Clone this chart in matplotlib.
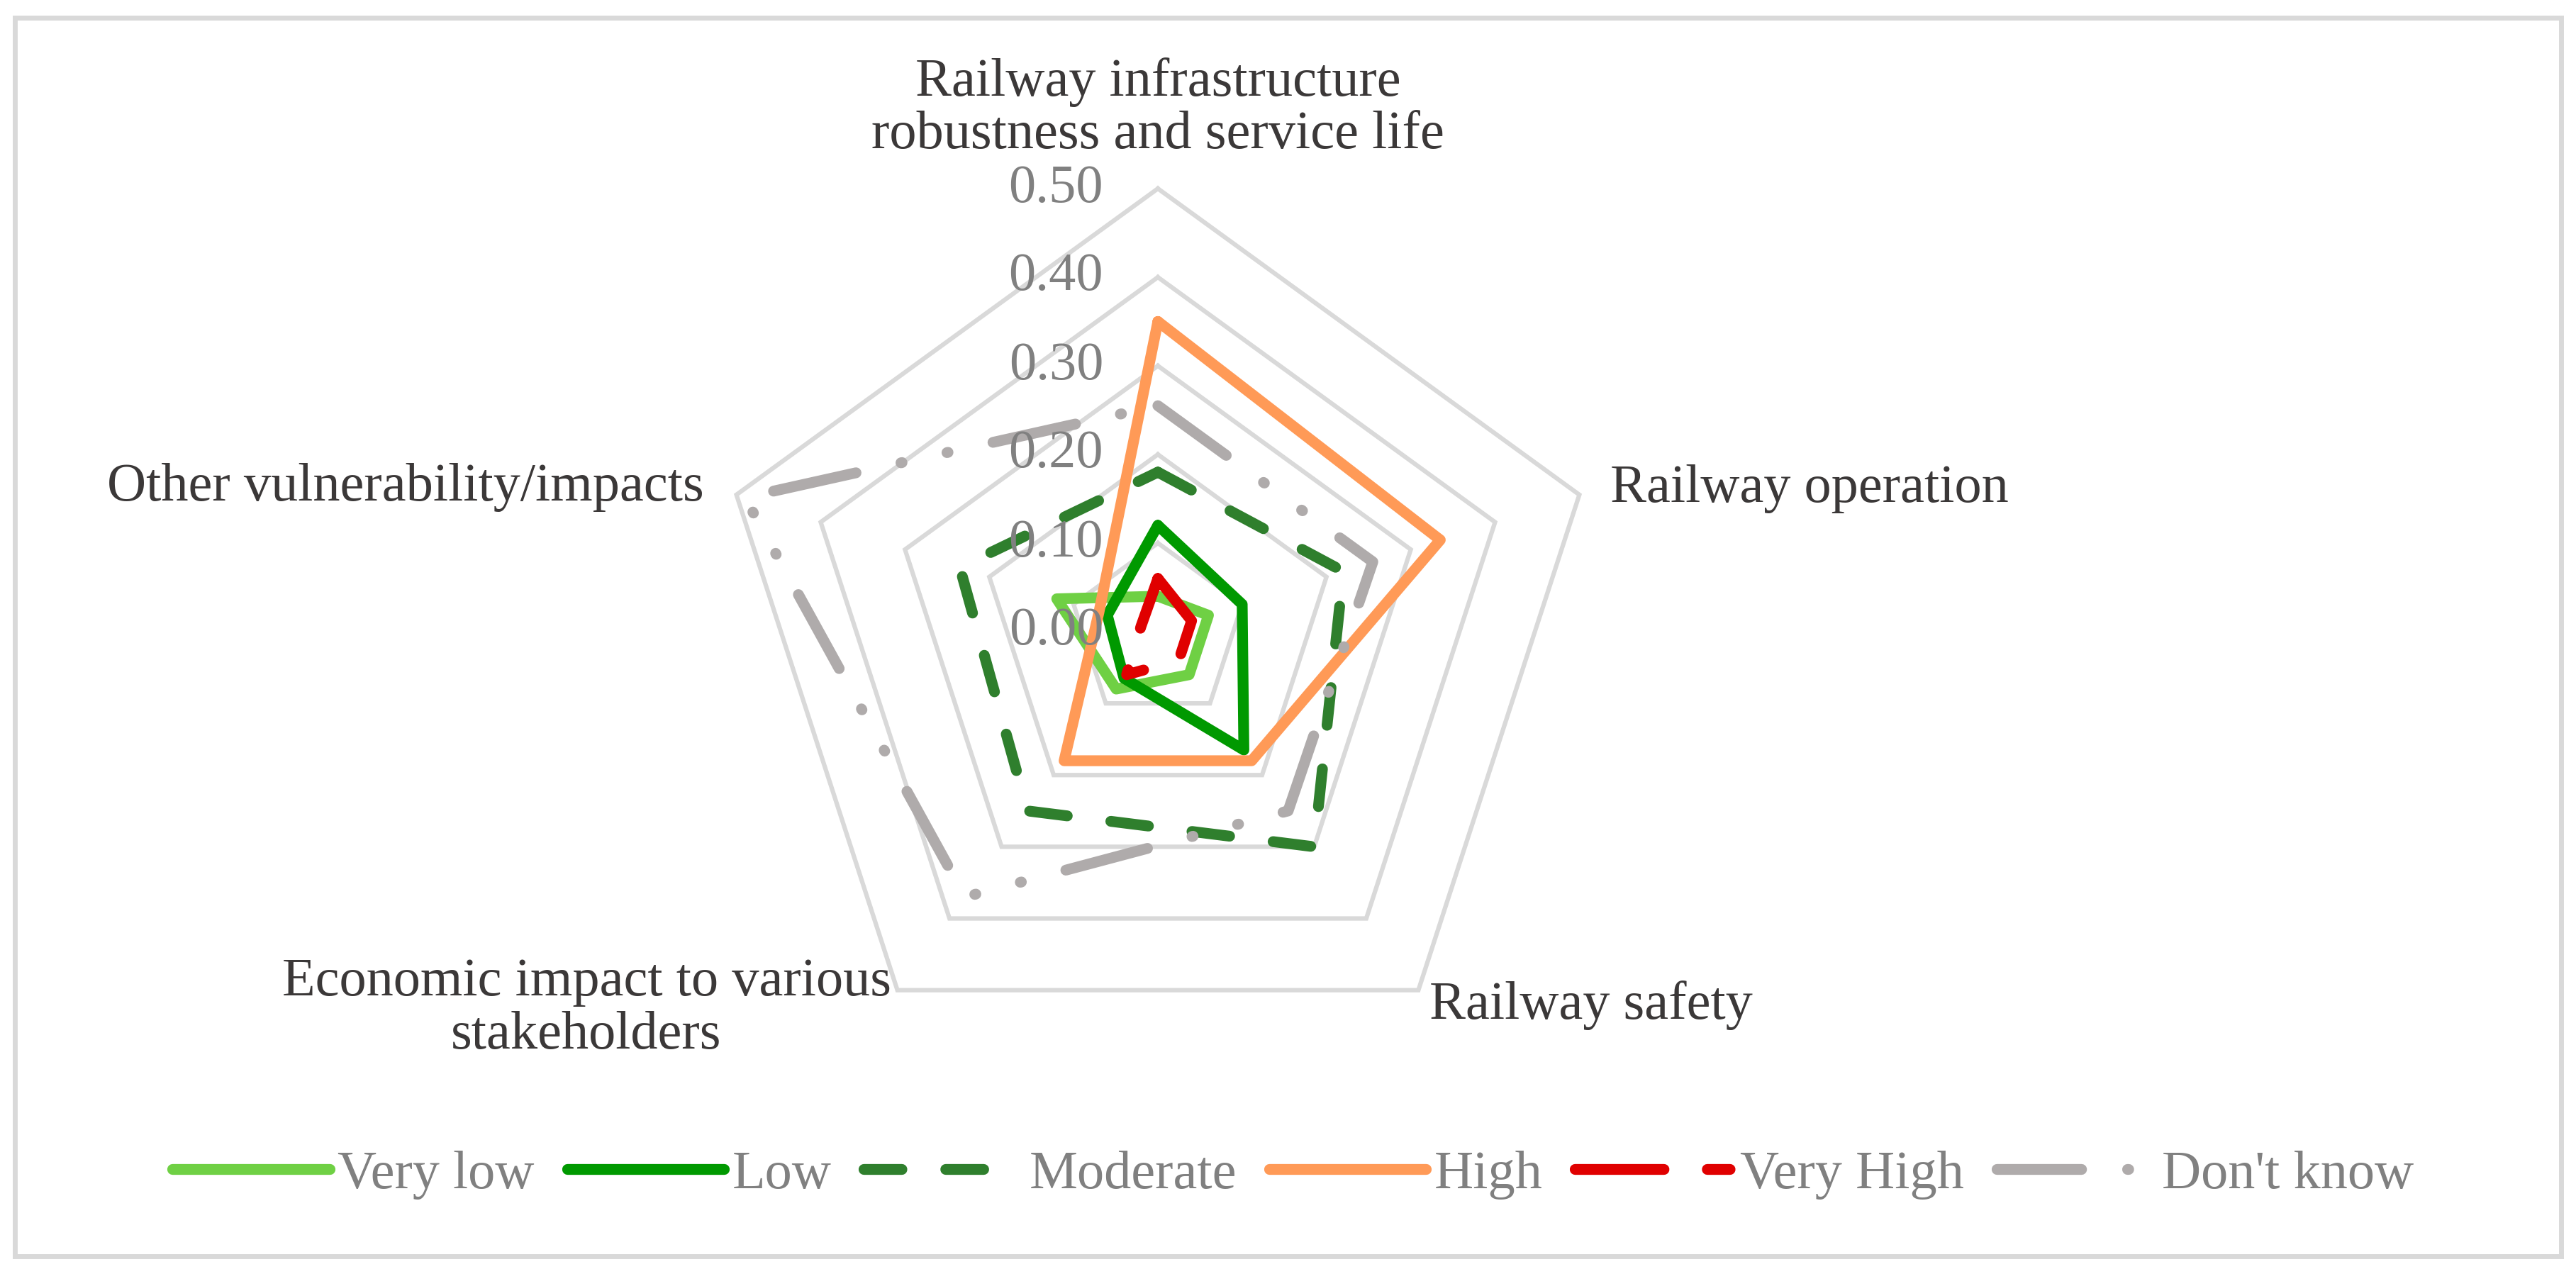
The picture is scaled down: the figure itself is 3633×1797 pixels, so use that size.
import numpy as np
import matplotlib
matplotlib.use("Agg")
import matplotlib.pyplot as plt
from matplotlib.patches import Rectangle

plt.rcParams["font.family"] = ["Liberation Serif", "DejaVu Serif"]

# axes of the radar, clockwise from the top
categories = ["Railway infrastructure\nrobustness and service life",
              "Railway operation",
              "Railway safety",
              "Economic impact to various\nstakeholders",
              "Other vulnerability/impacts"]

series_names = ["Very low", "Low", "Moderate", "High", "Very High", "Don't know"]
very_low = [0.04, 0.06, 0.06, 0.08, 0.12]
low = [0.12, 0.10, 0.165, 0.065, 0.06]
moderate = [0.18, 0.22, 0.30, 0.25, 0.235]
high = [0.35, 0.335, 0.18, 0.18, 0.07]
very_high = [0.06, 0.04, 0.04, 0.06, 0.02]
dont_know = [0.255, 0.255, 0.25, 0.37, 0.49]

ticks = [0.0, 0.1, 0.2, 0.3, 0.4, 0.5]
tick_labels = ["0.00", "0.10", "0.20", "0.30", "0.40", "0.50"]

colors = ["#6FD044", "#009900", "#2F7F2D", "#FF9A57", "#E00000", "#AFABAB"]
styles = ["-", "-", (0, (3.5, 4.05)), "-", (0, (8.2, 4.0, 2.1, 4.0)),
          (0, (7.8, 4.25, 0.1, 4.25, 0.1, 4.25))]

W, H = 3633, 1797
cx, cy = 1633, 891      # centre of the radar in pixels (from top-left)
scale = 1250            # pixels per unit value

fig = plt.figure(figsize=(W / 100, H / 100), dpi=100)
ax = fig.add_axes([0, 0, 1, 1])
ax.set_xlim(-cx / scale, (W - cx) / scale)
ax.set_ylim(-(H - cy) / scale, cy / scale)
ax.axis("off")

n = len(categories)
theta = np.deg2rad(90 - 72 * np.arange(n))
theta_c = np.append(theta, theta[0])

# pentagon gridlines
for t in ticks[1:]:
    ax.plot(t * np.cos(theta_c), t * np.sin(theta_c), color="#D9D9D9", lw=4.5,
            solid_joinstyle="miter", zorder=1)

# series
data = [very_low, low, moderate, high, very_high, dont_know]
handles = []
for vals, name, col, ls in zip(data, series_names, colors, styles):
    v = np.append(vals, vals[0])
    h, = ax.plot(v * np.cos(theta_c), v * np.sin(theta_c), color=col, lw=11,
                 linestyle=ls, dash_capstyle="round", solid_capstyle="round",
                 solid_joinstyle="round", dash_joinstyle="round", zorder=3,
                 label=name)
    handles.append(h)

# value labels on the top axis
for t, lab in zip(ticks, tick_labels):
    ax.text(-0.0616, t, lab, ha="right", va="center", fontsize=55,
            color="#808080", zorder=5)

# category labels
lab_col = "#3B3838"
ax.text(0.0, 0.5904, categories[0], ha="center", va="center", fontsize=55,
        color=lab_col, linespacing=1.1)
ax.text(0.5104, 0.1608, categories[1], ha="left", va="center", fontsize=55,
        color=lab_col)
ax.text(0.3064, -0.4216, categories[2], ha="left", va="center", fontsize=55,
        color=lab_col)
ax.text(-0.6448, -0.4256, categories[3], ha="center", va="center", fontsize=55,
        color=lab_col, linespacing=1.1)
ax.text(-0.512, 0.1624, categories[4], ha="right", va="center", fontsize=55,
        color=lab_col)

fig.legend(handles, series_names, loc="center", bbox_to_anchor=(0.502, 0.078),
           ncol=6, frameon=False, fontsize=55, handlelength=2.9,
           handletextpad=0.15, columnspacing=0.6, labelcolor="#808080")

fig.patches.append(Rectangle((21 / W, 25 / H), (W - 42) / W, (H - 50) / H,
                             transform=fig.transFigure, fill=False,
                             ec="#D9D9D9", lw=5))

fig.savefig("out.png", dpi=100)
